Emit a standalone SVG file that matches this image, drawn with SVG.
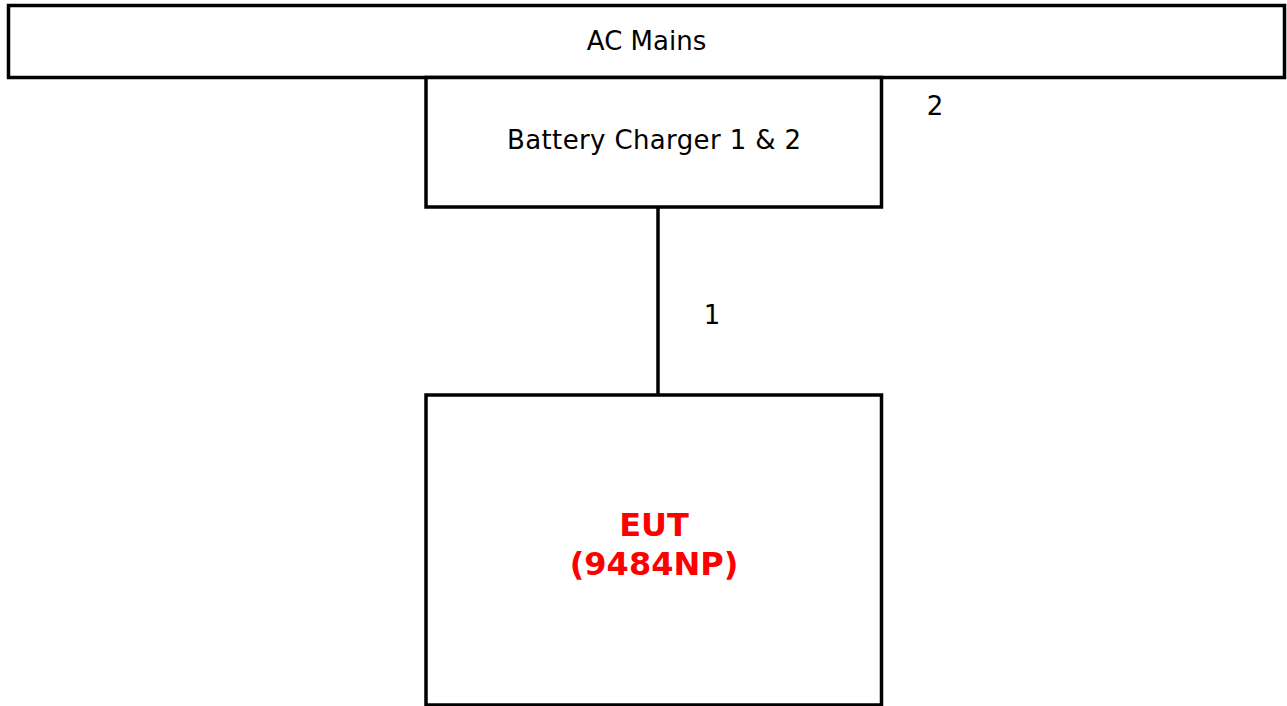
<svg xmlns="http://www.w3.org/2000/svg" width="1287" height="706" viewBox="0 0 1287 706">
<style>
.box{fill:#fff;stroke:#000;stroke-width:3.5}
.t{font-family:"DejaVu Sans",Verdana,sans-serif;font-size:26px;fill:#000;text-anchor:middle}
.eut{font-family:"DejaVu Sans",Verdana,sans-serif;font-size:32px;font-weight:bold;fill:#f00;text-anchor:middle}
.ln{stroke:#000;stroke-width:3.5;fill:none}
</style>
<rect width="1287" height="706" fill="#fff"/>
<g id="connectors">
<line class="ln" x1="658" y1="207" x2="658" y2="395"/>
<text class="t" x="712" y="324">1</text>
<text class="t" x="935" y="115">2</text>
</g>
<g id="ac-mains">
<rect class="box" x="8.5" y="5.5" width="1276" height="72"/>
<text class="t" x="646.5" y="50">AC Mains</text>
</g>
<g id="battery-charger">
<rect class="box" x="426" y="77.5" width="455.5" height="129.5"/>
<text class="t" x="654" y="149" textLength="294" lengthAdjust="spacing">Battery Charger 1 &amp; 2</text>
</g>
<g id="eut">
<rect class="box" x="426" y="395" width="455.5" height="310"/>
<text class="eut" x="654" y="536">EUT</text>
<text class="eut" x="654" y="575">(9484NP)</text>
</g>
</svg>
